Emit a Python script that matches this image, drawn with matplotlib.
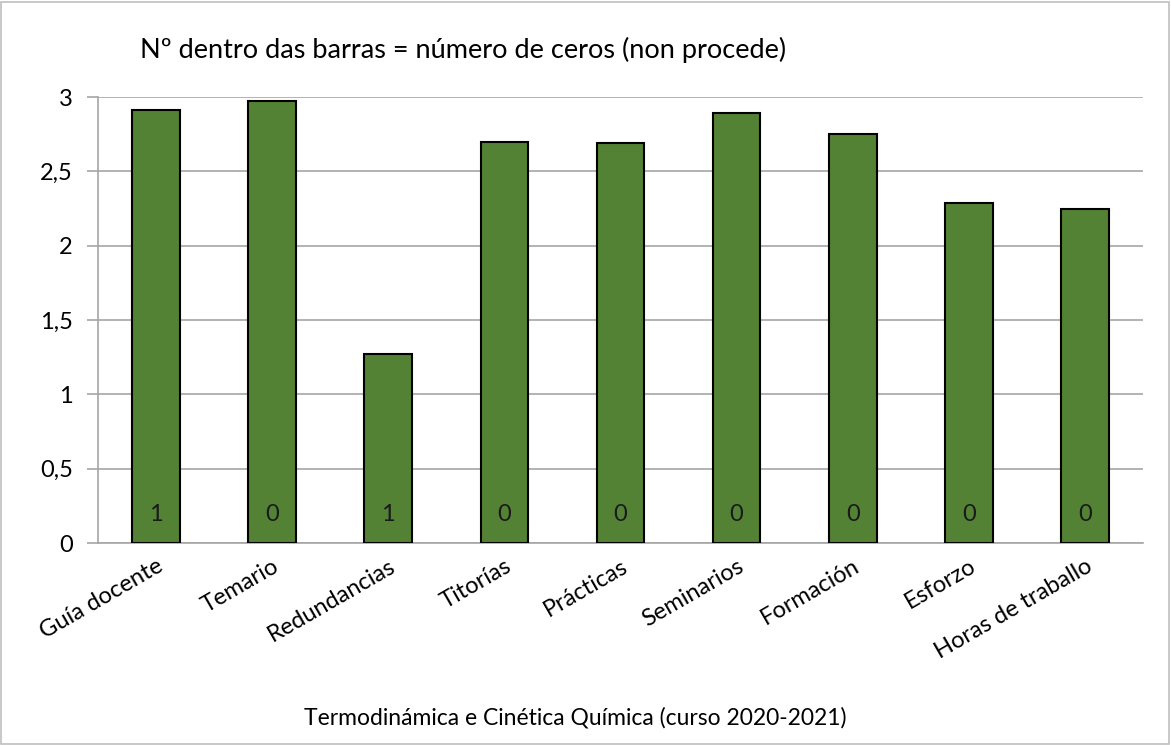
import matplotlib
matplotlib.use("Agg")
import matplotlib.pyplot as plt
from matplotlib.patches import Rectangle
from matplotlib.ticker import FuncFormatter

categories = ["Guía docente", "Temario", "Redundancias", "Titorías", "Prácticas",
              "Seminarios", "Formación", "Esforzo", "Horas de traballo"]
values = [2.91, 2.97, 1.27, 2.70, 2.69, 2.89, 2.75, 2.29, 2.25]
zeros = [1, 0, 1, 0, 0, 0, 0, 0, 0]
yticks = [0, 0.5, 1, 1.5, 2, 2.5, 3]

plt.rcParams['font.family'] = ['Lato', 'DejaVu Sans']

W, H = 1171, 745
fig = plt.figure(figsize=(W / 100, H / 100), dpi=100)
ax = fig.add_axes([98 / W, 1 - 543 / H, (1143 - 98) / W, (543 - 97) / H])

x = list(range(len(categories)))
ax.bar(x, values, width=0.41, color="#548235", edgecolor="black", linewidth=1.5, zorder=3)
for xi, z in zip(x, zeros):
    ax.text(xi, 0.19, str(z), ha="center", va="center", fontsize=17, color="#1a1a1a", zorder=4)

ax.set_xlim(-0.5, len(categories) - 0.5)
ax.set_ylim(0, 3)
ax.set_yticks(yticks)
ax.yaxis.set_major_formatter(FuncFormatter(lambda v, p: ("%g" % v).replace(".", ",")))
ax.grid(axis="y", color="#A6A6A6", linewidth=1.2, zorder=0)
ax.set_axisbelow(True)
ax.set_xticks(x)
ax.set_xticklabels(categories, rotation=30, ha="right", rotation_mode="anchor", fontsize=17)
ax.tick_params(axis="x", length=0, pad=9)
ax.tick_params(axis="y", length=8, color="#A6A6A6", width=1.2, labelsize=17, pad=10)
for s in ["top", "right"]:
    ax.spines[s].set_visible(False)
for s in ["left", "bottom"]:
    ax.spines[s].set_color("#A6A6A6")
    ax.spines[s].set_linewidth(1.2)

fig.text(140 / W, 1 - 50 / H, "Nº dentro das barras = número de ceros (non procede)",
         ha="left", va="center", fontsize=19.5, color="black")
fig.text(575 / W, 1 - 718 / H, "Termodinámica e Cinética Química (curso 2020-2021)",
         ha="center", va="center", fontsize=16.5, color="black")

fig.patches.append(Rectangle((1 / W, 1 / H), (W - 3) / W, (H - 3) / H, transform=fig.transFigure,
                             fill=False, edgecolor="#BFBFBF", linewidth=1.2))

fig.savefig("out.png", dpi=100)
